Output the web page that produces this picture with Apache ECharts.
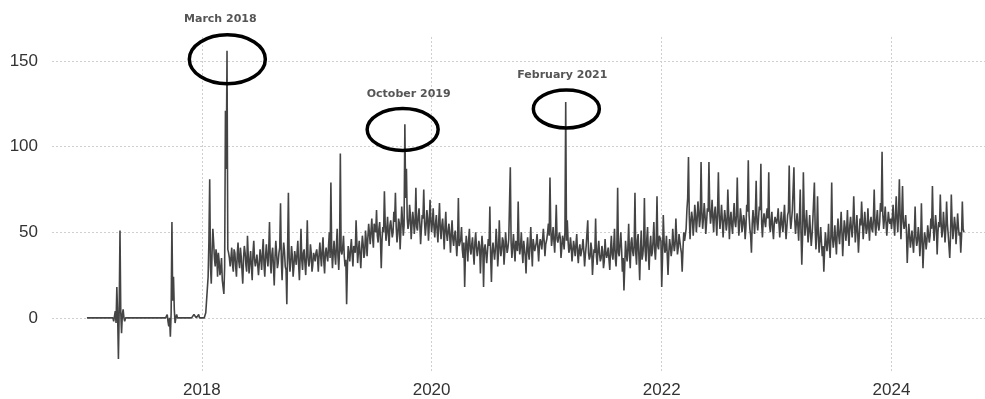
<!DOCTYPE html>
<html>
<head>
<meta charset="utf-8">
<script src="https://cdn.jsdelivr.net/npm/echarts@6/dist/echarts.min.js"></script>
<style>
  html, body { margin: 0; padding: 0; background: #fff; }
  #main { width: 985px; height: 399px; }
</style>
</head>
<body>
<div id="main"></div>
<script>
// values: vYYYY every 5 days from Jan 1,
// mYYYY the readings half way between them (day 5i + 2.5)
const stepDays = 5;
const v2017 = [0,0,0,0,0,0,0,0,0,0,0,0,0,0,0,0,
  0,-2,4,18,-24,51,-9,5,-2,
  0,0,0,0,0,0,0,0,0,0,0,0,0,0,0,0,0,0,0,0,0,0,0,0,0,0,
  2,-5,-11,56,24,-3,2,
  0,0,0,0,0,0,0,0,0,0,
  2,1,0,2,0];
const m2017 = [0,0,0,0,0,0,0,0,0,0,0,0,0,0,0,0,
  0,1,-3,2,5,3,2,0,0,
  0,0,0,0,0,0,0,0,0,0,0,0,0,0,0,0,0,0,0,0,0,0,0,0,0,0,
  -2,0,3,10,5,0,0,
  0,0,0,0,0,0,0,0,0,0,
  1,0,1,0,0];
const v2018 = [0,0,1,10,24,81,20,52,35,40,24,33,28,22,14,121,156,38,
  30,41,27,38,24,44,29,36,20,42,31,48,26,39,22,45,30,37,25,
  40,28,46,24,43,30,56,26,41,19,45,29,38,67,22,44,30,8,73,
  27,42,24,39,31,45,22,52,28,40,25,57,30,43,27,38,33];
const m2018 = [0,0,3,17,45,30,38,44,30,36,38,25,35,18,30,87,40,35,
  35,31,40,30,37,33,41,28,35,38,27,36,33,30,38,34,29,36,32,
  35,38,31,36,35,40,33,37,30,35,38,32,41,34,36,39,28,40,35,
  33,36,30,35,38,31,36,34,38,32,37,35,33,38,31,36,38];
const v2019 = [40,27,44,30,47,26,41,33,50,79,29,45,31,52,28,96,37,48,30,8,42,
  33,46,30,40,57,32,45,29,48,35,51,36,
  55,43,58,41,52,63,44,56,29,53,74,45,59,42,57,47,62,73,44,58,40,65,48,
  113,87,52,66,46,62,49,76,51,64,43,60,75,48,63,45,69];
const m2019 = [35,37,36,40,33,38,36,42,35,40,38,37,42,36,40,39,41,36,34,30,37,
  40,37,42,38,44,39,37,40,43,38,45,47,
  49,51,47,55,50,48,52,45,46,50,55,51,49,54,52,50,56,53,49,55,52,57,54,
  70,58,55,60,54,57,56,53,59,55,52,58,56,54,58,55,57];
const v2020 = [50,64,47,60,44,67,46,58,40,62,45,55,38,57,42,51,36,70,41,53,35,18,
  48,33,52,37,47,31,50,36,45,26,48,18,43,32,46,65,21,44,34,52,30,57,36,47,31,50,
  38,46,88,35,49,33,45,68,37,50,32,44,26,47,34,53,30,45,38,49,33,46,40,52,36];
const m2020 = [56,53,55,51,56,52,54,50,53,49,51,48,50,46,48,44,
  45,42,46,40,44,38,42,45,40,43,38,44,41,40,42,38,41,40,43,39,42,36,
  39,43,40,44,38,42,40,45,39,43,41,46,44,
  42,40,45,39,44,42,39,45,36,41,38,43,40,46,39,44,41,42,44,40,45,43];
const v2021 = [46,55,82,42,53,38,66,44,50,35,48,40,126,57,38,47,33,45,36,49,32,43,
  37,46,30,42,57,34,44,25,40,58,31,45,33,42,29,46,35,41,28,48,34,52,30,76,36,50,
  27,16,45,33,55,29,47,36,73,31,49,22,51,37,70,33,53,28,48,38,56,34,71,40,47];
const m2021 = [50,48,52,47,45,50,46,43,47,41,45,50,45,
  45,40,42,39,41,43,38,40,36,41,39,37,41,38,36,40,
  34,38,36,40,37,35,39,33,38,36,34,40,37,42,35,41,38,43,
  40,35,30,38,41,37,44,39,42,38,45,36,40,34,43,39,46,38,42,36,45,40,44,42,48,45];
const v2022 = [18,60,38,48,25,46,36,52,39,58,37,49,41,27,50,44,63,94,46,62,48,66,
  50,68,53,91,52,67,49,64,91,55,69,50,65,48,85,52,66,47,63,51,75,46,62,49,67,53,
  82,48,64,50,60,46,66,92,52,38,63,49,80,51,65,90,47,61,53,64,85,50,62,46,59];
const m2022 = [35,45,40,37,38,42,40,44,43,46,41,45,38,40,45,52,
  70,60,56,58,55,60,57,62,58,
  62,58,60,56,62,64,60,58,61,57,63,60,58,57,
  56,58,55,61,57,54,59,56,60,58,55,59,54,57,53,62,60,48,55,57,60,56,58,63,55,57,56,60,58,54,57,52,55,57];
const v2023 = [55,64,47,62,50,66,46,60,89,52,63,88,49,61,45,75,31,85,48,63,44,60,
  42,57,79,40,71,38,53,36,27,50,39,55,35,79,41,54,37,58,43,62,36,57,45,63,42,59,
  47,71,44,60,38,58,68,46,62,49,64,45,59,50,75,48,63,51,67,97,52,65,48,62,55];
const m2023 = [58,55,56,54,58,55,53,62,60,57,62,58,55,54,58,50,48,60,54,53,51,50,48,56,
  52,50,48,46,44,42,40,44,45,42,48,47,46,45,50,48,52,
  50,48,53,51,49,54,52,55,56,51,50,48,54,57,53,55,52,54,56,52,58,55,57,54,56,62,
  60,58,56,55,57,58];
const v2024 = [52,66,48,71,50,81,46,77,52,60,32,55,41,51,38,65,42,53,36,67,29,50,
  40,54,44,58,77,45,60,37,56,72,47,62,44,68,49,35,72,46,59,43,61,48,38,68,50];
const m2024 = [58,55,60,57,62,58,60,56,55,50,
  45,48,46,44,49,47,45,48,44,46,42,47,45,49,48,52,
  55,52,54,50,53,56,51,54,52,55,50,48,56,52,54,51,53,50,48,52];

const years = [2017, 2018, 2019, 2020, 2021, 2022, 2023, 2024];
const yearValues = [v2017, v2018, v2019, v2020, v2021, v2022, v2023, v2024];
const yearMids = [m2017, m2018, m2019, m2020, m2021, m2022, m2023, m2024];

const yTicks = [0, 50, 100, 150];
const xTickYears = [2018, 2020, 2022, 2024];

// circled peaks
const annotations = [
  { label: 'March 2018', date: [2018, 2, 23], value: 151 },
  { label: 'October 2019', date: [2019, 9, 1], value: 110 },
  { label: 'February 2021', date: [2021, 2, 4], value: 122 }
];

const seriesData = [];
years.forEach((y, k) => {
  const vals = yearValues[k], mids = yearMids[k];
  vals.forEach((v, i) => {
    seriesData.push([new Date(y, 0, 1 + i * stepDays).getTime(), v]);
    if (i < mids.length) {
      seriesData.push([new Date(y, 0, 3 + i * stepDays, 12).getTime(), mids[i]]);
    }
  });
});

const xTicks = xTickYears.map(y => new Date(y, 0, 1).getTime());
const font = 'Liberation Sans';
const gridLine = { color: '#cfcfcf', type: [2, 2], width: 1 };

const chart = echarts.init(document.getElementById('main'), null, { renderer: 'canvas' });
const option = {
  animation: false,
  backgroundColor: '#fff',
  grid: { left: 52, right: 0, top: 37, bottom: 27 },
  xAxis: {
    // timestamps on a value axis so the year ticks can be placed exactly
    type: 'value',
    min: new Date(2016, 8, 12).getTime(),
    max: new Date(2024, 9, 24).getTime(),
    axisLine: { show: false },
    axisTick: { show: false, customValues: xTicks },
    axisLabel: {
      customValues: xTicks,
      formatter: v => String(new Date(v).getFullYear()),
      fontSize: 17, color: '#333', fontFamily: font, margin: 11
    },
    splitLine: { show: true, lineStyle: gridLine }
  },
  yAxis: {
    type: 'value',
    min: -31,
    max: 164,
    axisLine: { show: false },
    axisTick: { show: false, customValues: yTicks },
    axisLabel: { customValues: yTicks, fontSize: 17, color: '#333', fontFamily: font, margin: 14 },
    splitLine: { show: true, lineStyle: gridLine }
  },
  series: [{
    type: 'line',
    data: seriesData,
    showSymbol: false,
    sampling: 'none',
    lineStyle: { color: '#444', width: 1.6 }
  }]
};
chart.setOption(option);

// ellipse sizes and label offsets, in pixels
const shapes = [
  { rx: 38, ry: 24.5, dx: -7, dy: -40 },
  { rx: 35.5, ry: 21, dx: 6, dy: -35 },
  { rx: 33, ry: 19, dx: -4, dy: -33.5 }
];
const graphics = [];
annotations.forEach((a, i) => {
  const t = new Date(a.date[0], a.date[1], a.date[2]).getTime();
  const p = chart.convertToPixel({ gridIndex: 0 }, [t, a.value]);
  const s = shapes[i];
  graphics.push({
    type: 'ellipse', z: 100,
    shape: { cx: p[0], cy: p[1], rx: s.rx, ry: s.ry },
    style: { fill: 'none', stroke: '#000', lineWidth: 3.5 }
  });
  graphics.push({
    type: 'text', z: 100,
    x: p[0] + s.dx, y: p[1] + s.dy,
    style: { text: a.label, align: 'center', verticalAlign: 'middle', fill: '#555', font: 'bold 11px "DejaVu Sans"' }
  });
});
chart.setOption({ graphic: graphics });
</script>
</body>
</html>
